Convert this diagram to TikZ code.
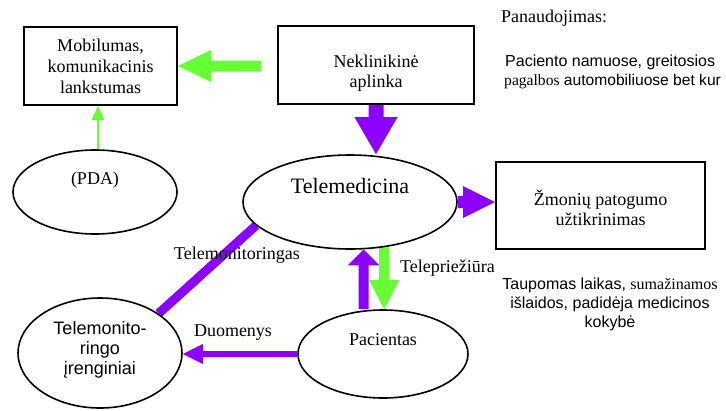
\documentclass[tikz,border=0pt]{standalone}
\usepackage{fontspec}
\setmainfont{Liberation Serif}
\newfontfamily\arialf{Liberation Sans}
\usetikzlibrary{shapes.geometric,calc,backgrounds}
\definecolor{vio}{RGB}{140,0,255}
\definecolor{grn}{RGB}{102,255,51}
% #1 colour, #2 from, #3 to, #4 shaft half width, #5 head half width, #6 head length
\newcommand\blockarrow[6]{%
  \coordinate (ba-h) at ($(#3)!#6!(#2)$);
  \fill[#1] ($(#2)!#4!90:(#3)$) -- ($(ba-h)!#4!-90:(#2)$) -- ($(ba-h)!#5!-90:(#2)$)
    -- (#3) -- ($(ba-h)!#5!90:(#2)$) -- ($(ba-h)!#4!90:(#2)$) -- ($(#2)!#4!-90:(#3)$) -- cycle;
}
\begin{document}
\begin{tikzpicture}[x=1pt,y=-1pt,
  box/.style={draw,line width=2pt,rectangle,inner sep=0pt},
  oval/.style={draw,line width=1.6pt,ellipse,inner sep=0pt,fill=white},
  serif18/.style={inner sep=0pt,align=center,font=\fontsize{18}{21}\selectfont},
  sans16/.style={inner sep=0pt,font=\arialf\fontsize{16}{19}\selectfont}]
\useasboundingbox (0,0) rectangle (726,410);

% boxes
\node[box,minimum width=153pt,minimum height=78pt] (mob) at (100.5,66) {};
\node[box,minimum width=196pt,minimum height=78pt] (nek) at (376,65) {};
\node[box,minimum width=209pt,minimum height=87pt] (zm) at (600.5,205.5) {};

% ellipses
\node[oval,minimum width=164pt,minimum height=84pt] (pda) at (95,192) {};
\node[oval,minimum width=214pt,minimum height=94pt] (tm) at (350,202) {};
\node[oval,minimum width=170pt,minimum height=88pt] (pac) at (383,354) {};
\node[oval,minimum width=164pt,minimum height=110pt] (tmo) at (100,353) {};

% texts in shapes
\node[serif18] (mobt) at (mob.center) {Mobilumas,\\komunikacinis\\lankstumas};
\node[serif18,font=\fontsize{18}{20}\selectfont] (nekt) at (376,73) {Neklinikinė\\aplinka};
\node[serif18,font=\fontsize{18}{20}\selectfont] (zmt) at (600.5,208) {Žmonių patogumo\\užtikrinimas};
\node[serif18] (pdat) at (95,180) {(PDA)};
\node[inner sep=0pt,font=\fontsize{22}{26}\selectfont] (tmt) at (350,186) {Telemedicina};
\node[serif18] (pact) at (383,340) {Pacientas};
\node[inner sep=0pt,align=center,font=\arialf\fontsize{18}{20}\selectfont] (tmot) at (100,350) {Telemonito-\\ringo\\įrenginiai};

% free texts
\node[serif18,anchor=west] (pan) at (501,18) {Panaudojimas:};
\node[sans16,anchor=west] (pan1) at (505,62) {Paciento namuose, greitosios};
\node[sans16,anchor=west,font=\arialf\fontsize{15.6}{19}\selectfont] (pan2) at (504,82) {{\rmfamily pagalbos} automobiliuose bet kur};
\node[sans16,align=center] (tau) at (610,304) {Taupomas laikas, {\rmfamily sumažinamos}\\išlaidos, padidėja medicinos\\kokybė};

% connectors
\begin{scope}[on background layer]
\fill[white] (0,0) rectangle (726,410);
\blockarrow{grn}{[xshift=-16pt]nek.west |- mob.east}{mob.east}{5.5pt}{16pt}{33pt}
\blockarrow{vio}{nek.south}{nek.south |- tm.north}{7.5pt}{21.5pt}{37pt}
\blockarrow{vio}{tm.east}{tm.east -| zm.west}{6pt}{16pt}{32pt}
\blockarrow{grn}{[xshift=3pt]pda.north}{[xshift=3pt]pda.north |- mob.south}{1pt}{6.5pt}{14pt}
\blockarrow{vio}{pac.west}{pac.west -| tmo.east}{3pt}{10pt}{20pt}
\blockarrow{vio}{tm.286 |- pac.north}{tm.286}{5pt}{16pt}{16pt}
\blockarrow{grn}{tm.307}{tm.307 |- pac.north}{5pt}{15pt}{29pt}
\draw[vio,line width=9pt] (tmo.34) -- (tm.194);
\end{scope}

% connector labels
\node[serif18] (lblmon) at (237,255) {Telemonitoringas};
\node[serif18] (lbldu) at (233,333) {Duomenys};
\node[serif18,anchor=west] (lbltp) at (400,268) {Telepriežiūra};
\end{tikzpicture}
\end{document}
